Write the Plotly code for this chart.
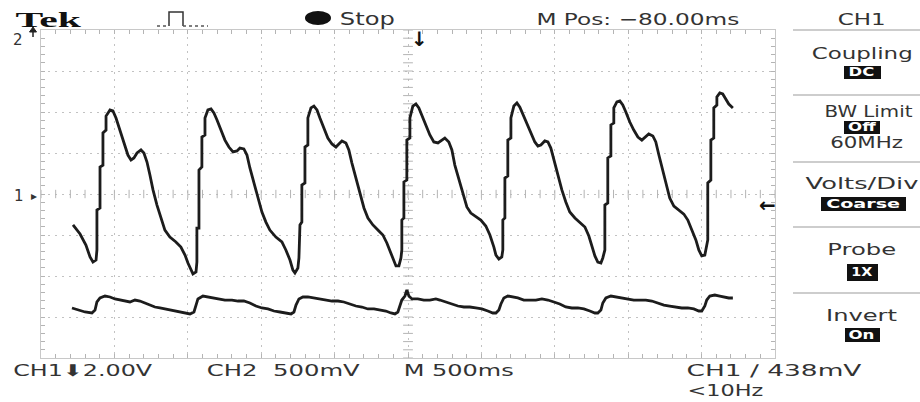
import json
import plotly.graph_objects as go

time_per_div_ms = 500          # M 500ms
ch1_volts_per_div = 2.0        # CH1 2.00V
ch2_mv_per_div = 500           # CH2 500mV

# CH1 (large pulsatile waveform): time from left edge of screen (ms), volts
ch1_t = [218, 266, 306, 334, 354, 375, 381, 381, 402, 402,
         422, 422, 443, 443, 470, 490, 511, 538, 565, 592,
         613, 633, 654, 681, 701, 722, 742, 763, 790, 817,
         844, 878, 919, 953, 981, 1001, 1022, 1035, 1056, 1062,
         1062, 1076, 1076, 1096, 1096, 1117, 1117, 1137, 1158, 1178,
         1199, 1226, 1253, 1280, 1308, 1335, 1355, 1382, 1403, 1423,
         1451, 1478, 1505, 1532, 1559, 1600, 1641, 1668, 1696, 1716,
         1730, 1750, 1757, 1764, 1777, 1777, 1798, 1798, 1818, 1818,
         1839, 1859, 1880, 1900, 1927, 1954, 1982, 2009, 2029, 2050,
         2077, 2097, 2118, 2145, 2172, 2200, 2227, 2261, 2295, 2329,
         2356, 2384, 2404, 2418, 2438, 2452, 2458, 2458, 2472, 2472,
         2492, 2492, 2513, 2513, 2533, 2554, 2574, 2595, 2622, 2649,
         2676, 2704, 2731, 2751, 2778, 2799, 2819, 2847, 2874, 2901,
         2928, 2962, 2996, 3030, 3058, 3085, 3099, 3119, 3139, 3146,
         3146, 3160, 3160, 3180, 3180, 3201, 3201, 3221, 3242, 3262,
         3282, 3310, 3337, 3364, 3385, 3405, 3432, 3453, 3473, 3494,
         3521, 3548, 3575, 3602, 3637, 3671, 3705, 3732, 3752, 3773,
         3793, 3814, 3827, 3841, 3841, 3861, 3861, 3882, 3882, 3902,
         3902, 3923, 3943, 3963, 3984, 4011, 4038, 4066, 4093, 4120,
         4140, 4168, 4188, 4209, 4236, 4263, 4283, 4311, 4345, 4379,
         4406, 4433, 4461, 4481, 4501, 4522, 4535, 4542, 4542, 4563,
         4563, 4583, 4583, 4604, 4604, 4624, 4644, 4665, 4685, 4713]
ch1_v = [-1.51, -1.95, -2.49, -3.07, -3.32, -3.22, -2.73, -0.78, -0.68, 1.32,
         1.41, 2.98, 3.12, 3.80, 4.10, 4.05, 3.71, 3.12, 2.49, 1.90,
         1.66, 1.76, 2.00, 2.15, 2.00, 1.56, 0.93, 0.20, -0.54, -1.17,
         -1.76, -2.10, -2.34, -2.59, -2.98, -3.37, -3.76, -3.90, -3.80, -3.32,
         -1.66, -1.66, 1.17, 1.32, 2.78, 2.88, 3.71, 4.10, 4.15, 3.95,
         3.61, 3.12, 2.63, 2.29, 2.05, 2.10, 2.24, 2.20, 1.90, 1.27,
         0.54, -0.20, -0.88, -1.37, -1.76, -2.10, -2.34, -2.73, -3.22, -3.71,
         -3.85, -3.61, -3.12, -1.51, -1.37, 0.44, 0.54, 2.29, 2.39, 3.71,
         4.20, 4.29, 4.10, 3.71, 3.22, 2.73, 2.44, 2.29, 2.44, 2.59,
         2.49, 2.15, 1.51, 0.78, -0.05, -0.68, -1.17, -1.51, -1.76, -2.00,
         -2.39, -2.88, -3.32, -3.51, -3.51, -3.12, -2.73, -1.27, -1.17, 0.59,
         0.68, 2.63, 2.73, 3.71, 4.29, 4.39, 4.20, 3.85, 3.37, 2.88,
         2.54, 2.49, 2.63, 2.73, 2.54, 2.15, 1.41, 0.68, -0.05, -0.63,
         -0.93, -1.12, -1.27, -1.56, -2.00, -2.59, -2.98, -3.17, -3.07, -2.73,
         -1.27, -1.17, 0.78, 0.88, 2.63, 2.73, 3.71, 4.29, 4.44, 4.24,
         3.90, 3.41, 2.93, 2.54, 2.34, 2.39, 2.59, 2.54, 2.24, 1.66,
         0.93, 0.20, -0.39, -0.88, -1.17, -1.37, -1.61, -2.05, -2.54, -3.02,
         -3.32, -3.37, -3.12, -2.73, -0.54, -0.44, 1.76, 1.85, 3.37, 3.46,
         4.20, 4.49, 4.54, 4.34, 4.00, 3.51, 3.12, 2.78, 2.63, 2.78,
         2.93, 2.83, 2.54, 1.90, 1.17, 0.39, -0.20, -0.59, -0.78, -0.98,
         -1.27, -1.76, -2.24, -2.73, -3.02, -2.98, -2.59, -2.24, 0.54, 0.68,
         2.63, 2.73, 4.20, 4.34, 4.73, 4.93, 4.88, 4.63, 4.39, 4.20]

# CH2 (small trace): time (ms), millivolts relative to screen centre
ch2_t = [211, 252, 300, 347, 368, 381, 402, 436, 470, 504,
         538, 572, 606, 640, 674, 708, 742, 776, 810, 844,
         878, 913, 947, 981, 1015, 1042, 1056, 1069, 1103, 1137,
         1171, 1205, 1253, 1301, 1342, 1382, 1423, 1464, 1505, 1546,
         1587, 1628, 1668, 1703, 1723, 1737, 1757, 1784, 1818, 1852,
         1886, 1934, 1982, 2023, 2063, 2104, 2145, 2186, 2227, 2268,
         2309, 2349, 2384, 2411, 2431, 2445, 2458, 2479, 2492, 2506,
         2527, 2567, 2608, 2649, 2690, 2717, 2758, 2799, 2840, 2881,
         2921, 2962, 3003, 3044, 3078, 3099, 3119, 3133, 3153, 3180,
         3214, 3248, 3289, 3330, 3371, 3412, 3453, 3494, 3534, 3575,
         3616, 3657, 3698, 3739, 3773, 3793, 3814, 3827, 3848, 3882,
         3916, 3957, 3997, 4038, 4079, 4120, 4161, 4202, 4243, 4283,
         4324, 4365, 4406, 4447, 4481, 4501, 4522, 4535, 4556, 4590,
         4624, 4658, 4685, 4713]
ch2_mv = [-1390, -1415, -1439, -1451, -1415, -1317, -1268, -1244, -1256, -1280,
          -1293, -1305, -1317, -1293, -1305, -1329, -1354, -1378, -1390, -1402,
          -1415, -1427, -1439, -1451, -1463, -1439, -1354, -1280, -1244, -1256,
          -1268, -1280, -1293, -1293, -1305, -1305, -1329, -1366, -1390, -1402,
          -1427, -1439, -1451, -1463, -1439, -1354, -1280, -1256, -1256, -1268,
          -1280, -1293, -1305, -1305, -1317, -1341, -1366, -1378, -1402, -1402,
          -1415, -1427, -1451, -1463, -1439, -1366, -1293, -1244, -1171, -1244,
          -1280, -1280, -1293, -1293, -1280, -1293, -1317, -1341, -1366, -1378,
          -1378, -1390, -1402, -1427, -1451, -1451, -1415, -1341, -1268, -1244,
          -1256, -1268, -1293, -1293, -1293, -1280, -1293, -1317, -1341, -1378,
          -1390, -1390, -1402, -1427, -1451, -1451, -1415, -1329, -1268, -1244,
          -1256, -1268, -1280, -1293, -1293, -1293, -1305, -1329, -1354, -1366,
          -1378, -1390, -1390, -1402, -1427, -1427, -1366, -1293, -1244, -1232,
          -1244, -1256, -1268, -1268]

# ---------------- layout geometry (pixels) ----------------
W, H = 920, 402
L, R, T, B = 41, 775, 30, 358
XDIV, YDIV = 10, 8


def px(x):
    return (x - L) / (R - L)


def py(y):
    return (B - y) / (B - T)


x_range = [0, XDIV * time_per_div_ms]
y1_range = [-YDIV / 2 * ch1_volts_per_div, YDIV / 2 * ch1_volts_per_div]
y2_range = [-YDIV / 2 * ch2_mv_per_div, YDIV / 2 * ch2_mv_per_div]

GRID = "#c2c2c2"
TICK = "#b4b4b4"
TRACE = "#1c1c1c"

fig = go.Figure()

# centre-line graticule ticks
minor_x = [i * time_per_div_ms / 5 for i in range(XDIV * 5 + 1)]
minor_y = [y1_range[0] + i * ch1_volts_per_div / 5 for i in range(YDIV * 5 + 1)]
fig.add_trace(go.Scatter(x=minor_x, y=[0] * len(minor_x), mode="markers",
                         marker=dict(symbol="line-ns-open", size=6, color=TICK,
                                     line=dict(width=1, color=TICK)),
                         hoverinfo="skip"))
fig.add_trace(go.Scatter(x=[x_range[1] / 2] * len(minor_y), y=minor_y, mode="markers",
                         marker=dict(symbol="line-ew-open", size=7, color=TICK,
                                     line=dict(width=1, color=TICK)),
                         hoverinfo="skip"))

fig.add_trace(go.Scatter(x=ch1_t, y=ch1_v, mode="lines",
                         line=dict(color=TRACE, width=2.8), hoverinfo="skip"))
fig.add_trace(go.Scatter(x=ch2_t, y=ch2_mv, mode="lines", yaxis="y2",
                         line=dict(color=TRACE, width=2.8), hoverinfo="skip"))

axis_common = dict(showgrid=True, gridcolor=GRID, griddash="2px,5px", gridwidth=1,
                   zeroline=False, showticklabels=False, ticks="inside", ticklen=4,
                   tickcolor=TICK, showline=True, linecolor="#c8c8c8", linewidth=1,
                   mirror="allticks", fixedrange=True)
fig.update_layout(
    width=W, height=H, autosize=False,
    margin=dict(l=L, r=W - R, t=T, b=H - B, pad=0),
    paper_bgcolor="white", plot_bgcolor="white",
    showlegend=False, hovermode=False,
    xaxis=dict(range=x_range, dtick=time_per_div_ms,
               minor=dict(dtick=time_per_div_ms / 5, ticks="inside", ticklen=4,
                          tickcolor=TICK, showgrid=False), **axis_common),
    yaxis=dict(range=y1_range, dtick=ch1_volts_per_div,
               minor=dict(dtick=ch1_volts_per_div / 5, ticks="inside", ticklen=4,
                          tickcolor=TICK, showgrid=False), **axis_common),
    yaxis2=dict(range=y2_range, overlaying="y", visible=False, fixedrange=True),
)

# ---------------- decorations ----------------
shapes = []
# trigger icon  _|‾|_
shapes.append(dict(type="path", xref="paper", yref="paper",
                   path=f"M{px(169)},{py(26)} L{px(169)},{py(12)} L{px(183)},{py(12)} L{px(183)},{py(26)}",
                   line=dict(color="#333", width=1.5)))
for a, b in ((157, 169), (183, 208)):
    shapes.append(dict(type="line", xref="paper", yref="paper", x0=px(a), x1=px(b),
                       y0=py(26), y1=py(26), line=dict(color="#555", width=1.5, dash="dot")))
# Stop dot
shapes.append(dict(type="circle", xref="paper", yref="paper", x0=px(305), x1=px(331),
                   y0=py(25), y1=py(11), fillcolor="#111", line=dict(width=0)))
# CH2 off-screen (above) marker: small up arrow beside the "2"
shapes.append(dict(type="path", xref="paper", yref="paper",
                   path=f"M{px(29.5)},{py(32)} L{px(36.5)},{py(32)} L{px(33)},{py(27)} Z",
                   fillcolor="#222", line=dict(color="#222", width=1)))
shapes.append(dict(type="line", xref="paper", yref="paper", x0=px(33), x1=px(33),
                   y0=py(31), y1=py(37), line=dict(color="#222", width=1.5)))
# side menu separators
for yy in (30, 95, 162, 227, 293):
    shapes.append(dict(type="line", xref="paper", yref="paper", x0=px(793), x1=px(920),
                       y0=py(yy), y1=py(yy), line=dict(color="#bdbdbd", width=1.5)))
# inverted option boxes
for x0, x1, y0, y1 in ((844, 881, 66, 79), (844, 880, 121, 134), (821, 906, 197, 211),
                       (847, 878, 264, 281), (845, 880, 328, 342)):
    shapes.append(dict(type="rect", xref="paper", yref="paper", x0=px(x0), x1=px(x1),
                       y0=py(y1), y1=py(y0), fillcolor="#111", line=dict(width=0)))
fig.update_layout(shapes=shapes)

FONT = "DejaVu Sans"
TXT = "#333"
# text, centre x, centre y, size, family, colour, target width (px) or None
labels = [
    ("<b>Tek</b>", 48, 20, 22, "Liberation Serif", "#111", 67),
    ("Stop", 367, 19, 17, FONT, TXT, 55),
    ("M Pos: \u221280.00ms", 638, 19, 16, FONT, TXT, 203),
    ("CH1", 861, 19, 16, FONT, TXT, 48),
    ("Coupling", 862, 54, 16, FONT, TXT, 101),
    ("<b>DC</b>", 862, 72, 12, FONT, "#fff", 26),
    ("BW Limit", 868, 111, 16, FONT, TXT, 88),
    ("<b>Off</b>", 862, 127, 12, FONT, "#fff", 28),
    ("60MHz", 866, 143, 15, FONT, TXT, 73),
    ("Volts/Div", 862, 183, 16, FONT, TXT, 113),
    ("<b>Coarse</b>", 863, 204, 12, FONT, "#fff", 74),
    ("Probe", 862, 250, 16, FONT, TXT, 69),
    ("<b>1X</b>", 862, 272, 12, FONT, "#fff", 22),
    ("Invert", 862, 315, 16, FONT, TXT, 71),
    ("<b>On</b>", 862, 335, 12, FONT, "#fff", 26),
    ("CH1\u2b072.00V", 82, 370, 16, FONT, TXT, 139),
    ("CH2\u00a0\u00a0500mV", 283, 370, 16, FONT, TXT, 153),
    ("M 500ms", 458, 370, 16, FONT, TXT, 110),
    ("CH1 \u2215 438mV", 774, 370, 16, FONT, TXT, 175),
    ("&lt;10Hz", 725, 391, 15, FONT, TXT, 76),
    ("2", 18, 40, 15, FONT, TXT, None),
    ("1", 19, 196, 15, FONT, TXT, None),
    ("\u25b8", 34, 196, 12, FONT, TXT, None),
    ("<b>\u2193</b>", 419, 39, 20, FONT, "#111", None),
    ("<b>\u2190</b>", 767, 205, 20, FONT, "#111", None),
]
annotations = []
widths = []
for text, cx, cy, size, fam, col, tw in labels:
    annotations.append(dict(text=text, x=px(cx), y=py(cy), xref="paper", yref="paper",
                            xanchor="center", yanchor="middle", showarrow=False,
                            font=dict(family=fam, size=size, color=col)))
    widths.append(tw)
fig.update_layout(annotations=annotations)

post = """
document.documentElement.style.margin = '0';
document.body.style.margin = '0';
document.body.style.padding = '0';
document.body.style.overflow = 'hidden';
var gd = document.getElementById('{plot_id}');
var targets = %s;
function fitText(){
  gd.querySelectorAll('g.annotation').forEach(function(g){
    var i = +g.getAttribute('data-index');
    var w = targets[i];
    if(!w) return;
    var t = g.querySelector('text.annotation-text');
    if(!t) return;
    t.style.transform = '';
    var bb = t.getBBox();
    if(!bb || bb.width <= 0) return;
    t.style.transformBox = 'fill-box';
    t.style.transformOrigin = 'center';
    t.style.transform = 'scaleX(' + (w / bb.width) + ')';
  });
}
fitText(); setTimeout(fitText, 50); setTimeout(fitText, 300);
""" % json.dumps(widths)

fig.write_html("out.html", config={"displayModeBar": False, "staticPlot": True},
               post_script=post)
